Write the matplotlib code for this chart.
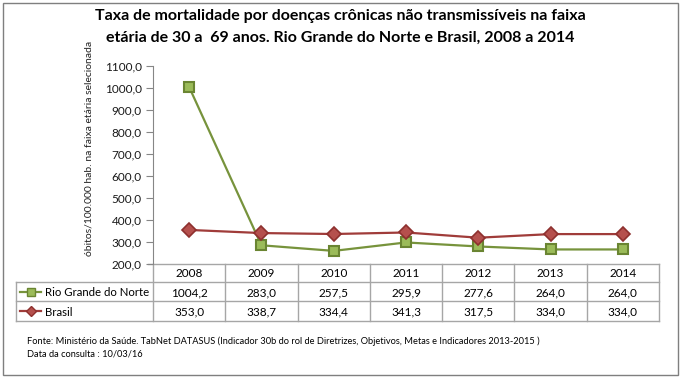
import matplotlib
matplotlib.use("Agg")
import matplotlib.pyplot as plt
from matplotlib.lines import Line2D
from matplotlib.patches import Rectangle

plt.rcParams['font.family'] = ['Lato', 'DejaVu Sans']

# data
anos = ['2008', '2009', '2010', '2011', '2012', '2013', '2014']
rn = [1004.2, 283.0, 257.5, 295.9, 277.6, 264.0, 264.0]
brasil = [353.0, 338.7, 334.4, 341.3, 317.5, 334.0, 334.0]
series_nomes = ['Rio Grande do Norte', 'Brasil']
yticks = [200, 300, 400, 500, 600, 700, 800, 900, 1000, 1100]

W, H = 680, 378
green_line, green_face, green_edge = '#77933C', '#9BBB59', '#6A8532'
red_line, red_face, red_edge = '#A03C3A', '#B5504D', '#8E302E'
grid_col = '#A6A6A6'

fig = plt.figure(figsize=(W / 100, H / 100), dpi=100)

# overlay axes in pixel coords (for table, border, texts)
ov = fig.add_axes([0, 0, 1, 1])
ov.set_xlim(0, W)
ov.set_ylim(H, 0)
ov.axis('off')

# main chart axes
x0, x1 = 153, 659
y_top, y_bot = 66, 263.5
ax = fig.add_axes([x0 / W, 1 - y_bot / H, (x1 - x0) / W, (y_bot - y_top) / H])
xs = range(len(anos))
ax.plot(xs, rn, color=green_line, lw=1.6, marker='s', ms=7.5,
        mfc=green_face, mec=green_edge, mew=1.5, zorder=3)
ax.plot(xs, brasil, color=red_line, lw=1.6, marker='D', ms=7,
        mfc=red_face, mec=red_edge, mew=1.2, zorder=3)
ax.set_xlim(-0.5, len(anos) - 0.5)
ax.set_ylim(200, 1100)
ax.set_yticks(yticks)
ax.set_yticklabels([f'{v:.1f}'.replace('.', ',') for v in yticks], fontsize=8.5, color='#1A1A1A')
ax.set_xticks([])
for s in ['top', 'right', 'bottom']:
    ax.spines[s].set_visible(False)
ax.spines['left'].set_color('#868686')
ax.tick_params(axis='y', length=5, color='#868686', pad=3)
ax.patch.set_alpha(0)

# y label (placed like the original, partly above the axes)
ov.text(89, 148, 'óbitos/100.000 hab. na faixa etária selecionada', rotation=90,
        ha='center', va='center', fontsize=7.5, color='#222222')

# outer border
ov.add_patch(Rectangle((2.5, 2.5), W - 5, H - 5.5, fill=False, ec='#7F7F7F', lw=1))

# title
ov.text(W / 2, 16, 'Taxa de mortalidade por doenças crônicas não transmissíveis na faixa',
        ha='center', va='center', fontsize=11.5, fontweight='bold')
ov.text(W / 2, 38, 'etária de 30 a  69 anos. Rio Grande do Norte e Brasil, 2008 a 2014',
        ha='center', va='center', fontsize=11.5, fontweight='bold')

# data table
rows_y = [263.5, 282, 301, 321]
tx0 = 16
cw = (x1 - x0) / len(anos)
# horizontal lines
ov.plot([x0 - 5, x1], [rows_y[0]] * 2, color=grid_col, lw=1)
for yy in rows_y[1:]:
    ov.plot([tx0, x1], [yy, yy], color=grid_col, lw=1)
# vertical lines
ov.plot([tx0, tx0], [rows_y[1], rows_y[3]], color=grid_col, lw=1)
ov.plot([x0, x0], [rows_y[0], rows_y[3]], color=grid_col, lw=1)
for i in range(1, len(anos) + 1):
    xx = x0 + i * cw
    ov.plot([xx, xx], [rows_y[0], rows_y[3]], color=grid_col, lw=1)

for i, a in enumerate(anos):
    cx = x0 + (i + 0.5) * cw
    ov.text(cx, (rows_y[0] + rows_y[1]) / 2 + 1, a, ha='center', va='center', fontsize=8.5)
    ov.text(cx, (rows_y[1] + rows_y[2]) / 2 + 1, f'{rn[i]:.1f}'.replace('.', ','),
            ha='center', va='center', fontsize=8.5)
    ov.text(cx, (rows_y[2] + rows_y[3]) / 2 + 1, f'{brasil[i]:.1f}'.replace('.', ','),
            ha='center', va='center', fontsize=8.5)

# legend keys in the row labels
styles = [(green_line, 's', green_face, green_edge, 6), (red_line, 'D', red_face, red_edge, 5)]
for k, (nome, st) in enumerate(zip(series_nomes, styles)):
    yy = (rows_y[k + 1] + rows_y[k + 2]) / 2
    ov.add_line(Line2D([20, 41], [yy, yy], color=st[0], lw=1.6))
    ov.add_line(Line2D([30.5], [yy], marker=st[1], ms=st[4], mfc=st[2], mec=st[3], mew=1))
    ov.text(45, yy + 1, nome, ha='left', va='center', fontsize=8.2)

# footer
ov.text(27, 341, 'Fonte: Ministério da Saúde. TabNet DATASUS (Indicador 30b do rol de Diretrizes, '
        'Objetivos, Metas e Indicadores 2013-2015 )', ha='left', va='center', fontsize=6.7)
ov.text(27, 354, 'Data da consulta : 10/03/16', ha='left', va='center', fontsize=6.7)

fig.savefig('out.png', dpi=100)
